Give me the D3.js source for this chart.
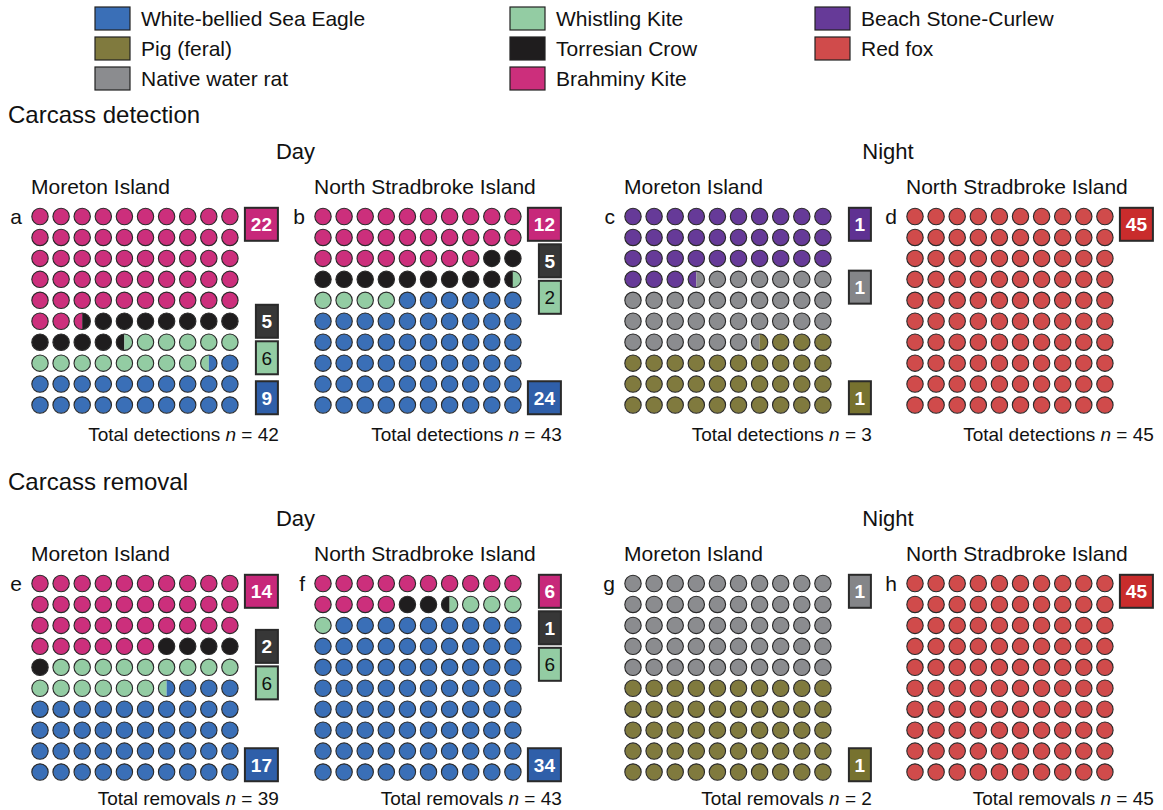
<!DOCTYPE html>
<html>
<head>
<meta charset="utf-8">
<script src="https://cdn.jsdelivr.net/npm/d3@7"></script>
<style>
  body { margin: 0; background: #fff; }
  text { font-family: "Liberation Sans", Arial, Helvetica, sans-serif; fill: #111; }
</style>
</head>
<body>
<script>
// species and colours
const species = ['White-bellied Sea Eagle', 'Pig (feral)', 'Native water rat', 'Whistling Kite',
  'Torresian Crow', 'Brahminy Kite', 'Beach Stone-Curlew', 'Red fox'];
const speciesColors = ['#3a6fb7', '#807a3e', '#8b8c8f', '#93cca3', '#1f1d1e', '#cc2f7c', '#663a98', '#d04b4b'];
const boxColors = ['#2f5fa9', '#77722f', '#848588', '#93cca3', '#373737', '#c7287a', '#5f3192', '#c92c2c'];

// panels
const panelIds = ['a', 'b', 'c', 'd', 'e', 'f', 'g', 'h'];
const panelSites = ['Moreton Island', 'North Stradbroke Island', 'Moreton Island', 'North Stradbroke Island',
  'Moreton Island', 'North Stradbroke Island', 'Moreton Island', 'North Stradbroke Island'];
const panelTotals = [42, 43, 3, 45, 39, 43, 2, 45];
const panelSpecies = [
  ['Brahminy Kite', 'Torresian Crow', 'Whistling Kite', 'White-bellied Sea Eagle'],
  ['Brahminy Kite', 'Torresian Crow', 'Whistling Kite', 'White-bellied Sea Eagle'],
  ['Beach Stone-Curlew', 'Native water rat', 'Pig (feral)'],
  ['Red fox'],
  ['Brahminy Kite', 'Torresian Crow', 'Whistling Kite', 'White-bellied Sea Eagle'],
  ['Brahminy Kite', 'Torresian Crow', 'Whistling Kite', 'White-bellied Sea Eagle'],
  ['Native water rat', 'Pig (feral)'],
  ['Red fox']
];
// counts shown in the boxes
const panelCounts = [[22, 5, 6, 9], [12, 5, 2, 24], [1, 1, 1], [45], [14, 2, 6, 17], [6, 1, 6, 34], [1, 1], [45]];
// share of the 100 dots (half dots allowed) as drawn
const panelCells = [[52.5, 12, 14, 21.5], [28, 11.5, 4.5, 56], [33.5, 33, 33.5], [100],
  [36, 5, 15.5, 43.5], [14, 2.5, 4.5, 79], [50, 50], [100]];

const sections = ['Carcass detection', 'Carcass removal'];
const periods = ['Day', 'Night'];
const totalLabels = ['Total detections', 'Total removals'];

const W = 1163, H = 810;
const svg = d3.select('body').append('svg').attr('width', W).attr('height', H);

const color = d3.scaleOrdinal().domain(species).range(speciesColors);
const boxColor = d3.scaleOrdinal().domain(species).range(boxColors);

// legend
const legendCols = [[0, 1, 2], [3, 4, 5], [6, 7]];
const legendX = [95, 510, 815];
legendCols.forEach((col, ci) => {
  const g = svg.append('g').attr('transform', 'translate(' + legendX[ci] + ',0)');
  const items = g.selectAll('g').data(col).enter().append('g')
    .attr('transform', (d, i) => 'translate(0,' + (7 + i * 30) + ')');
  items.append('rect').attr('width', 35).attr('height', 23)
    .attr('fill', d => color(species[d])).attr('stroke', '#222').attr('stroke-width', 1.2);
  items.append('text').attr('x', 46).attr('y', 19).attr('font-size', 21).text(d => species[d]);
});

// layout
const blockY = [0, 367];
const colX0 = [40, 323, 633, 915];
const dx = 21.1, dy = 20.95, r = 8.2;

sections.forEach((sec, si) => {
  const oy = blockY[si];
  svg.append('text').attr('x', 8).attr('y', 123 + oy).attr('font-size', 24).text(sec);
  periods.forEach((p, pi) => {
    const left = colX0[pi * 2] - 10, right = colX0[pi * 2 + 1] + 9 * dx + 48;
    svg.append('text').attr('x', (left + right) / 2).attr('y', 159 + oy)
      .attr('text-anchor', 'middle').attr('font-size', 22).text(p);
  });
});

function halfPath(cx, cy, rad, side) {
  // side 0 = left half, 1 = right half
  const sweep = side === 0 ? 0 : 1;
  return 'M' + cx + ',' + (cy - rad) + 'A' + rad + ',' + rad + ' 0 0 ' + sweep + ' ' + cx + ',' + (cy + rad) + 'Z';
}

panelIds.forEach((id, p) => {
  const si = Math.floor(p / 4), ci = p % 4;
  const oy = blockY[si];
  const x0 = colX0[ci], y0 = 216.5 + oy;
  const x = d3.scaleLinear().domain([0, 9]).range([x0, x0 + 9 * dx]);
  const y = d3.scaleLinear().domain([0, 9]).range([y0, y0 + 9 * dy]);
  const g = svg.append('g');

  g.append('text').attr('x', x0 - 9).attr('y', oy + 194).attr('font-size', 21).text(panelSites[p]);
  g.append('text').attr('x', x0 - 18).attr('y', y0 + 7).attr('text-anchor', 'end')
    .attr('font-size', 21).text(id);

  // cumulative boundaries
  const sp = panelSpecies[p];
  const ends = d3.cumsum(panelCells[p]);
  const at = pos => sp[Math.min(sp.length - 1, d3.bisectRight(Array.from(ends), pos))];

  const cells = d3.range(100).map(i => ({
    col: i % 10, row: Math.floor(i / 10),
    left: at(i + 0.25), right: at(i + 0.75)
  }));

  const cg = g.selectAll('g.cell').data(cells).enter().append('g').attr('class', 'cell');
  cg.filter(d => d.left === d.right).append('circle')
    .attr('cx', d => x(d.col)).attr('cy', d => y(d.row)).attr('r', r)
    .attr('fill', d => color(d.left));
  const split = cg.filter(d => d.left !== d.right);
  split.append('path').attr('d', d => halfPath(x(d.col), y(d.row), r, 0)).attr('fill', d => color(d.left));
  split.append('path').attr('d', d => halfPath(x(d.col), y(d.row), r, 1)).attr('fill', d => color(d.right));
  cg.append('circle').attr('cx', d => x(d.col)).attr('cy', d => y(d.row)).attr('r', r)
    .attr('fill', 'none').attr('stroke', '#2a2a2a').attr('stroke-width', 1.1);

  // count boxes, nudged apart so they don't touch
  const boxH = 33, gap = 3.5;
  const gridTop = y0 - r - 0.5, gridBottom = y(9) + r + 1;
  const starts = [0].concat(Array.from(ends).slice(0, -1));
  const boxes = sp.map((s, k) => ({ s: s, n: panelCounts[p][k], top: gridTop + Math.floor(starts[k] / 10) * dy }));
  const nb = boxes.length;
  boxes[0].top = gridTop;
  if (nb > 1) boxes[nb - 1].top = gridBottom - boxH;
  for (let it = 0; it < 100; it++) {
    for (let k = 0; k < nb - 1; k++) {
      const a = boxes[k], b = boxes[k + 1];
      const ov = a.top + boxH + gap - b.top;
      if (ov <= 0) continue;
      if (k === 0) b.top += ov;
      else if (k + 1 === nb - 1) a.top -= ov;
      else { a.top -= ov / 2; b.top += ov / 2; }
    }
  }
  const boxRight = x(9) + 48;
  boxes.forEach(b => {
    const dark = b.s !== 'Whistling Kite';
    const bw = String(b.n).length > 1 ? 33 : 22;
    g.append('rect').attr('x', boxRight - bw).attr('y', b.top).attr('width', bw).attr('height', boxH)
      .attr('fill', boxColor(b.s)).attr('stroke', '#2a2a2a').attr('stroke-width', 2);
    g.append('text').attr('x', boxRight - bw / 2).attr('y', b.top + boxH / 2 + 7)
      .attr('text-anchor', 'middle').attr('font-size', 19)
      .attr('font-weight', dark ? 'bold' : 'normal')
      .style('fill', dark ? '#fff' : '#111').text(b.n);
  });

  // total
  const t = g.append('text').attr('x', boxRight + 1).attr('y', si === 0 ? 441 : oy + 438)
    .attr('text-anchor', 'end').attr('font-size', 19);
  t.append('tspan').text(totalLabels[si] + ' ');
  t.append('tspan').attr('font-style', 'italic').text('n');
  t.append('tspan').text(' = ' + panelTotals[p]);
});
</script>
</body>
</html>
